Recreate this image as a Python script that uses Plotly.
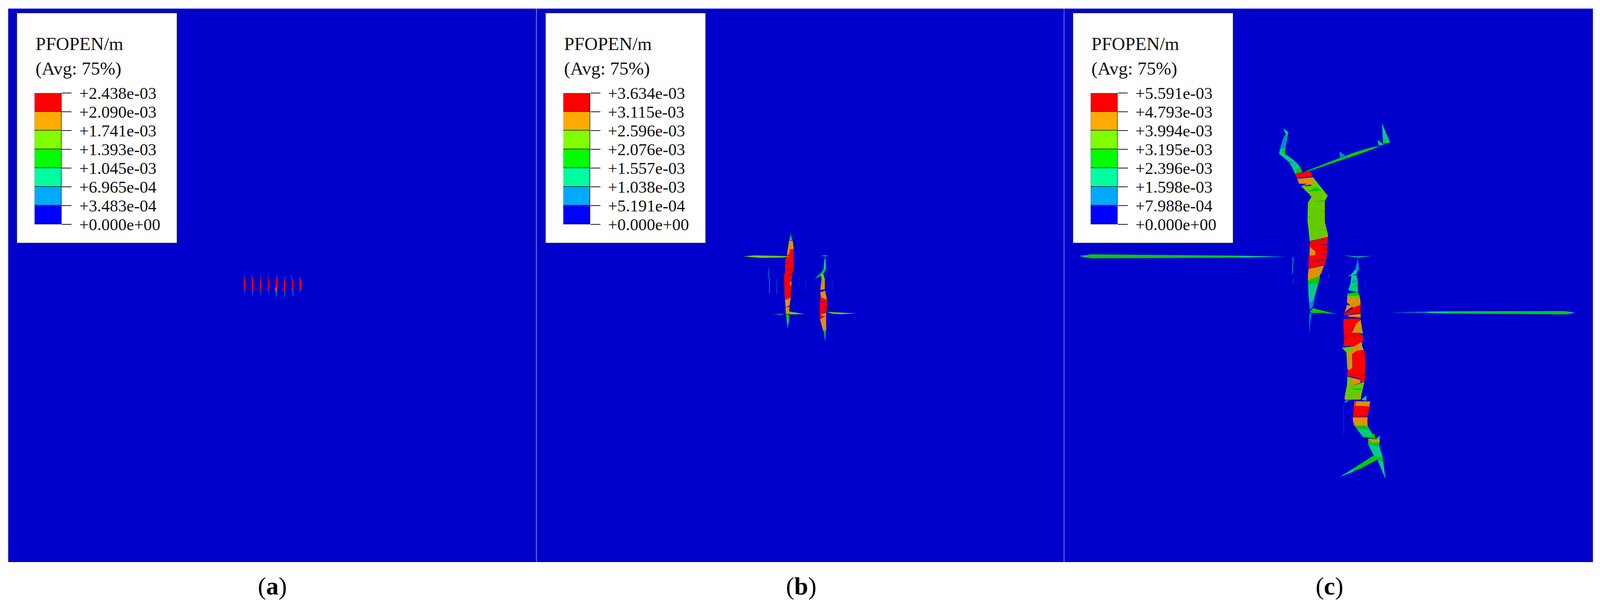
import plotly.graph_objects as go

# picture size the outlines and offsets were read at; the page itself fills the window
W, H = 4292, 1553

# -------------------------------------------------------------
# Data
# -------------------------------------------------------------
COLORMAP = ["#0000FF", "#00AAFF", "#00FF9F", "#00FF00", "#7FFF00", "#FFAA00", "#FF0000"]

LABELS_A = ["+2.438e-03", "+2.090e-03", "+1.741e-03", "+1.393e-03", "+1.045e-03", "+6.965e-04", "+3.483e-04", "+0.000e+00"]
LABELS_B = ["+3.634e-03", "+3.115e-03", "+2.596e-03", "+2.076e-03", "+1.557e-03", "+1.038e-03", "+5.191e-04", "+0.000e+00"]
LABELS_C = ["+5.591e-03", "+4.793e-03", "+3.994e-03", "+3.195e-03", "+2.396e-03", "+1.598e-03", "+7.988e-04", "+0.000e+00"]
CAPTIONS = ["a", "b", "c"]

# crack patches as (band, outline); band 0 = slit, 1 = faint, 2 azure, 3 spring, 4 green, 5 lime, 6 orange, 7 red
# outlines read off enlarged crops of the picture, see CROPS for each crop's origin and scale
SLIVERS_A = [
    (7, [(165,115),(172,125),(174,180),(170,220),(165,218),(160,175)]),
    (2, [(163,105),(168,105),(167,118),(164,118)]),
    (2, [(166,218),(172,220),(172,243),(169,243)]),
    (7, [(226,110),(236,130),(238,190),(236,225),(228,222),(227,160)]),
    (2, [(222,102),(226,102),(232,118),(228,118)]),
    (2, [(229,222),(236,222),(236,252),(233,252)]),
    (7, [(296,108),(301,130),(303,190),(300,235),(294,235),(292,180)]),
    (2, [(294,103),(299,103),(299,112),(295,112)]),
    (2, [(295,232),(300,232),(302,262),(300,262)]),
    (7, [(355,110),(362,130),(367,180),(360,225),(355,225),(358,165)]),
    (2, [(353,105),(358,105),(360,118),(356,118)]),
    (2, [(356,222),(361,222),(369,248),(366,248)]),
    (7, [(433,110),(432,130),(430,228),(417,228),(420,130)]),
    (6, [(418,195),(424,195),(424,228),(417,228)]),
    (2, [(431,105),(437,105),(431,122),(428,118)]),
    (2, [(418,226),(428,226),(430,264),(426,264)]),
    (7, [(487,130),(495,135),(495,235),(485,235),(483,170)]),
    (2, [(487,130),(505,112),(507,114),(492,132)]),
    (2, [(486,232),(494,232),(497,268),(493,268)]),
    (7, [(547,120),(556,135),(558,220),(549,220),(548,155)]),
    (2, [(537,100),(541,100),(552,125),(548,125)]),
    (2, [(550,218),(558,218),(563,265),(559,265)]),
    (7, [(610,125),(620,130),(627,175),(622,218),(613,218),(610,170)]),
    (2, [(606,120),(611,120),(618,132),(613,132)]),
    (2, [(612,218),(625,218),(625,221),(612,221)]),
    (2, [(607,220),(610,220),(615,234),(612,234)]),
]

CRACKS_B = [
    # left crack
    (3, [(507,100),(512,130),(500,165),(528,165)]),
    (4, [(512,130),(528,165),(500,165)]),
    (6, [(500,168),(530,168),(538,235),(510,235),(495,285),(483,280),(490,230)]),
    (7, [(510,232),(538,230),(538,380),(527,415),(527,432),(520,475),(505,490),(518,520),(515,545),(513,605),(467,620),(462,555),(460,440),(468,400),(468,320),(483,285),(500,270),(505,250)]),
    (6, [(520,475),(518,520),(505,495)]),
    (0, [(468,345),(533,332),(470,338)]),
    (0, [(468,398),(530,380),(468,392)]),
    (0, [(495,432),(527,425),(527,432)]),
    (0, [(460,548),(488,545),(460,542)]),
    (6, [(467,622),(513,605),(505,665),(472,680)]),
    (0, [(472,680),(507,663),(505,670)]),
    (6, [(472,680),(503,675),(500,725),(480,735),(473,720)]),
    (4, [(475,732),(500,735),(500,770),(490,800),(480,770)]),
    (3, [(480,770),(500,770),(488,845)]),
    (5, [(135,288),(220,280),(470,285),(505,292),(440,297),(345,298),(270,300),(200,295)]),
    (5, [(500,710),(545,718),(625,730),(560,733),(500,733)]),
    (3, [(372,733),(470,727),(430,735)]),
    (3, [(337,370),(339,370),(337,430),(345,470),(344,570),(340,570),(340,470),(333,430)]),
    (2, [(399,460),(401,460),(403,580),(400,580)]),
    (1, [(584,445),(586,445),(581,520),(579,520)]),
    (1, [(639,460),(641,460),(633,560),(631,560)]),
    (2, [(846,460),(848,460),(848,545),(846,545)]),
    # right crack
    (3, [(755,283),(790,280),(820,283),(790,288)]),
    (3, [(788,290),(795,320),(798,380),(785,400),(778,385),(782,330)]),
    (4, [(778,385),(795,390),(775,425),(740,445),(705,462),(740,430),(760,410)]),
    (5, [(755,425),(775,422),(788,460),(762,465)]),
    (6, [(762,460),(788,460),(788,540),(752,545),(755,510)]),
    (4, [(775,470),(760,500),(770,495)]),
    (0, [(750,545),(790,540),(770,548)]),
    (6, [(750,565),(790,550),(805,620),(760,610)]),
    (7, [(752,590),(765,605),(805,620),(805,670),(800,715),(750,735),(748,680)]),
    (0, [(755,640),(800,630),(770,645)]),
    (0, [(780,680),(805,672),(795,682)]),
    (6, [(750,735),(798,720),(798,770),(800,850),(775,860),(752,780)]),
    (7, [(750,735),(790,750),(752,770)]),
    (4, [(775,860),(800,850),(790,890)]),
    (3, [(783,880),(795,880),(790,945)]),
    (5, [(800,713),(920,718),(1043,725),(920,732),(850,728)]),
]

CRACKS_C_UPPER = [
    # left arm
    (3, [(275,105),(318,135),(295,240),(290,290),(340,320),(385,355),(410,380),(430,420),(372,432),(350,390),(320,345),(243,290),(255,240),(280,175),(298,150)]),
    (2, [(305,150),(295,240),(250,262),(270,195)]),
    (4, [(270,265),(295,240),(290,290),(270,280)]),
    (2, [(300,340),(340,345),(370,350),(330,355)]),
    (4, [(405,380),(430,420),(380,430),(385,400)]),
    # right arm
    (4, [(440,420),(485,405),(730,320),(850,280),(1000,240),(1060,235),(880,295),(550,395),(480,415)]),
    (2, [(728,272),(795,315),(735,320)]),
    (3, [(1037,190),(1085,225),(1045,230)]),
    (3, [(1072,70),(1137,210),(1080,218)]),
    (4, [(1082,175),(1110,212),(1080,220)]),
    # body
    (5, [(515,455),(635,590),(612,628),(612,780),(635,860),(637,885),(490,915),(472,770),(475,640),(505,597),(420,520),(500,520)]),
    (4, [(470,740),(570,730),(475,745)]),
    (4, [(515,635),(610,622),(610,630)]),
    (4, [(540,530),(590,555),(470,560)]),
    (4, [(575,702),(612,698),(612,706)]),
    (4, [(530,838),(625,830),(625,834)]),
    (6, [(500,595),(555,600),(510,605)]),
    (7, [(372,432),(497,415),(510,450),(390,470)]),
    (0, [(390,468),(515,450),(405,460)]),
    (6, [(390,470),(515,458),(530,485),(500,510),(420,520),(470,505),(405,505)]),
    (6, [(560,885),(637,870),(637,885)]),
    (7, [(490,918),(637,885),(637,900),(628,1015),(610,1085),(480,1115),(482,1020),(535,1015),(535,990),(490,955)]),
    (6, [(490,955),(535,990),(535,1015),(488,1020)]),
    (0, [(515,915),(637,900),(637,905)]),
    (0, [(490,955),(635,935),(635,942)]),
    (0, [(570,978),(632,968),(632,975)]),
    (0, [(575,1015),(625,1005),(622,1013)]),
    (0, [(480,1070),(608,1043),(605,1050)]),
    (0, [(482,1112),(605,1085),(600,1092)]),
    (6, [(480,1115),(605,1090),(585,1140),(545,1200),(475,1200),(475,1160)]),
    (4, [(477,1195),(575,1165),(560,1215),(477,1225)]),
    (3, [(477,1225),(560,1215),(520,1345),(490,1400),(480,1300)]),
    (2, [(490,1355),(530,1330),(515,1385),(490,1410)]),
    (4, [(490,1425),(515,1395),(600,1415),(705,1437),(600,1430),(510,1430)]),
    (2, [(488,1435),(505,1430),(495,1500),(486,1590)]),
    # thin traces
    (3, [(354,1030),(359,1030),(351,1150),(348,1150)]),
    (2, [(356,1190),(359,1190),(358,1222),(355,1222)]),
    (2, [(639,1150),(642,1150),(641,1180),(638,1180)]),
]

CRACKS_C_LOWER = [
    (3, [(460,35),(580,42),(695,38),(580,50)]),
    (2, [(578,55),(588,125),(570,150),(555,130)]),
    (3, [(555,130),(575,140),(565,160),(495,178),(525,160)]),
    (3, [(525,170),(565,165),(575,200),(578,280),(500,268),(520,215)]),
    (2, [(530,210),(570,195),(565,205),(540,222)]),
    (4, [(550,235),(575,225),(578,245),(530,245)]),
    (4, [(495,290),(578,278),(590,305),(492,308)]),
    (5, [(492,305),(590,303),(595,325),(492,322)]),
    (6, [(492,320),(595,320),(600,365),(540,385),(490,350)]),
    (6, [(490,365),(540,375),(520,385),(480,410),(468,430)]),
    (7, [(465,430),(540,385),(600,365),(598,420),(468,435)]),
    (6, [(500,435),(600,425),(600,450),(500,445)]),
    (3, [(465,435),(595,420),(500,430)]),
    (0, [(460,465),(600,452),(460,458)]),
    (7, [(462,462),(600,455),(565,495),(530,540),(585,555),(618,570),(620,605),(545,645),(458,640),(468,600),(460,510)]),
    (6, [(600,465),(615,555),(530,550),(565,490)]),
    (5, [(605,490),(618,560),(600,555)]),
    (0, [(468,572),(615,562),(468,577)]),
    (6, [(545,645),(610,612),(612,640),(625,668),(570,672),(530,695),(535,790),(498,805),(485,680),(450,652)]),
    (5, [(450,652),(540,650),(540,670),(480,680)]),
    (5, [(485,680),(500,680),(500,805),(492,790)]),
    (7, [(570,672),(630,670),(638,750),(632,880),(595,880),(590,860),(530,845),(490,840),(497,805),(538,785),(530,695)]),
    (0, [(495,838),(632,835),(632,840)]),
    (5, [(493,845),(520,850),(530,910),(630,880),(605,970),(600,998),(510,1000),(470,985),(490,900)]),
    (6, [(493,845),(590,865),(600,885),(530,910),(520,850)]),
    (4, [(525,925),(610,925),(610,935),(540,932)]),
    (6, [(470,980),(510,1000),(472,1000)]),
    (6, [(570,1000),(605,970),(600,998)]),
    (3, [(468,1022),(480,1005),(510,1003)]),
    (3, [(605,998),(648,972),(645,1008)]),
    (6, [(548,1010),(678,1012),(670,1045),(548,1040)]),
    (7, [(553,1010),(563,1010),(558,1035),(548,1035)]),
    (7, [(548,1040),(670,1045),(655,1115),(537,1115),(542,1075)]),
    (0, [(610,1076),(665,1076),(662,1081)]),
    (0, [(537,1107),(655,1107),(655,1112)]),
    (6, [(537,1118),(655,1118),(655,1170),(660,1175),(550,1175),(537,1140)]),
    (4, [(552,1175),(660,1175),(668,1195),(570,1195)]),
    (3, [(570,1195),(668,1195),(715,1255),(620,1250)]),
    (4, [(620,1245),(710,1228),(720,1260),(640,1250)]),
    (4, [(660,1258),(720,1262),(755,1240),(750,1310),(660,1298)]),
    (3, [(725,1268),(755,1240),(752,1270)]),
    (6, [(670,1260),(755,1270),(750,1285),(680,1285)]),
    (3, [(660,1298),(750,1310),(778,1388),(710,1380)]),
    (4, [(700,1375),(778,1388),(780,1415),(735,1400),(600,1460),(530,1480),(530,1465)]),
    (3, [(530,1465),(545,1480),(430,1517)]),
    (3, [(735,1400),(782,1415),(800,1532)]),
    # thin traces
    (1, [(634,205),(637,205),(638,265),(635,265)]),
    (1, [(461,1030),(464,1030),(466,1230),(463,1230)]),
]

CRACK_C_LEFT = [
    (3, [(100,105),(150,98),(155,118)]),
    (4, [(150,98),(170,92),(1090,102),(1090,118),(170,122),(150,114)]),
    (3, [(1090,102),(1240,106),(1390,111),(1240,114),(1090,118)]),
    (2, [(1425,115),(1429,115),(1424,240),(1421,240)]),
]

CRACK_C_RIGHT = [
    (2, [(70,118),(340,112),(340,122)]),
    (3, [(340,112),(500,109),(500,126),(340,122)]),
    (4, [(500,109),(1320,107),(1345,112),(1345,130),(1320,133),(500,127)]),
    (3, [(1345,112),(1392,121),(1345,130)]),
]

# crop: (origin x, origin y, scale x, scale y)
CROPS = {
    "a": (600, 670, 3, 3),
    "b": (1950, 560, 3, 3),
    "c_upper": (3350, 290, 3, 2.8),
    "c_lower": (3450, 640, 3, 2.613),
    "c_left": (2850, 620, 2.306, 3),
    "c_right": (3700, 760, 2.649, 3),
}

# -------------------------------------------------------------
# Helpers
# -------------------------------------------------------------
BAND_COLORS = {
    0: "#2A1CB0",
    1: "#0A50D8",
    2: "#0088D4",
    3: "#00CC88",
    4: "#00CC00",
    5: "#66CC00",
    6: "#E09000",
    7: "#FF0000",
}
BG = "#0000CD"
FONT = "Liberation Serif"


def px_x(x):
    return x / W


def px_y(y):
    return 1 - y / H


def add_patches(fig, patches, crop, row):
    ox, oy, sx, sy = CROPS[crop]
    xaxis = "x" if row == 1 else f"x{row}"
    yaxis = "y" if row == 1 else f"y{row}"
    for band, outline in patches:
        xs = [ox + p[0] / sx for p in outline] + [ox + outline[0][0] / sx]
        ys = [oy + p[1] / sy for p in outline] + [oy + outline[0][1] / sy]
        fig.add_trace(
            go.Scatter(
                x=xs,
                y=ys,
                mode="lines",
                fill="toself",
                fillcolor=BAND_COLORS[band],
                line=dict(width=0, color=BAND_COLORS[band]),
                hoverinfo="skip",
                showlegend=False,
                xaxis=xaxis,
                yaxis=yaxis,
            )
        )


def add_legend(fig, labels, n, left):
    # labels run top to bottom, bands are stacked from the bottom up
    levels = [float(v) for v in labels][::-1]
    idx = 3 + n
    ax = f"x{idx}"
    ay = f"y{idx}"
    fig.add_trace(
        go.Bar(
            x=[0] * 7,
            y=[levels[i + 1] - levels[i] for i in range(7)],
            base=levels[:-1],
            width=1,
            marker=dict(color=COLORMAP, line=dict(color="#1A1A1A", width=1.5)),
            hoverinfo="skip",
            showlegend=False,
            xaxis=ax,
            yaxis=ay,
        )
    )
    fig.update_layout(
        {
            f"xaxis{idx}": dict(
                domain=[px_x(left + 48), px_x(left + 120)],
                range=[-0.5, 0.5],
                anchor=ay,
                showticklabels=False,
                ticks="",
                showgrid=False,
                zeroline=False,
                showline=False,
            ),
            f"yaxis{idx}": dict(
                domain=[px_y(574), px_y(238)],
                range=[levels[0], levels[-1]],
                anchor=ax,
                side="right",
                tickvals=levels,
                ticktext=labels[::-1],
                ticks="outside",
                ticklen=25,
                tickwidth=1.5,
                tickcolor="#1A1A1A",
                ticklabelstandoff=11,
                tickfont=dict(family=FONT, size=43, color="#111111"),
                showgrid=False,
                zeroline=False,
                showline=False,
            ),
        }
    )
    fig.add_shape(
        type="rect",
        xref="paper",
        yref="paper",
        x0=px_x(left),
        x1=px_x(left + 430),
        y0=px_y(33),
        y1=px_y(622),
        fillcolor="white",
        line=dict(color="#222222", width=1.5),
        layer="between",
    )
    for text, y in (("PFOPEN/m", 112), ("(Avg: 75%)", 175)):
        fig.add_annotation(
            x=px_x(left + 48),
            y=px_y(y),
            xref="paper",
            yref="paper",
            xanchor="left",
            yanchor="middle",
            text=text,
            showarrow=False,
            font=dict(family=FONT, size=47, color="#111111"),
        )


# -------------------------------------------------------------
# Main
# -------------------------------------------------------------
PANELS = [(22, 1440), (1440, 2855), (2855, 4273)]
TOP, BOTTOM = 22, 1438

fig = go.Figure()
add_patches(fig, SLIVERS_A, "a", 1)
add_patches(fig, CRACKS_B, "b", 2)
add_patches(fig, CRACK_C_LEFT, "c_left", 3)
add_patches(fig, CRACK_C_RIGHT, "c_right", 3)
add_patches(fig, CRACKS_C_UPPER, "c_upper", 3)
add_patches(fig, CRACKS_C_LOWER, "c_lower", 3)

for i, (x0, x1) in enumerate(PANELS, start=1):
    suffix = "" if i == 1 else str(i)
    fig.update_layout(
        {
            f"xaxis{suffix}": dict(
                domain=[px_x(x0), px_x(x1)],
                range=[x0, x1],
                anchor=f"y{suffix}",
                visible=False,
            ),
            f"yaxis{suffix}": dict(
                domain=[px_y(BOTTOM), px_y(TOP)],
                range=[BOTTOM, TOP],
                anchor=f"x{suffix}",
                showline=i > 1,
                linecolor="#6E6EE6",
                linewidth=2,
                ticks="",
                showticklabels=False,
                showgrid=False,
                zeroline=False,
            ),
        }
    )

add_legend(fig, LABELS_A, 1, 45)
add_legend(fig, LABELS_B, 2, 1463)
add_legend(fig, LABELS_C, 3, 2878)

for cap, cx in zip(CAPTIONS, (731, 2149, 3566)):
    fig.add_annotation(
        x=px_x(cx),
        y=px_y(1499),
        xref="paper",
        yref="paper",
        xanchor="center",
        yanchor="middle",
        text=f"(<b>{cap}</b>)",
        showarrow=False,
        font=dict(family=FONT, size=64, color="#000000"),
    )

fig.update_layout(
    autosize=True,
    margin=dict(l=0, r=0, t=0, b=0, autoexpand=False),
    paper_bgcolor="white",
    plot_bgcolor=BG,
    bargap=0,
)

fig.write_html(
    "out.html",
    config={"displayModeBar": False, "responsive": True},
    default_width="100vw",
    default_height="100vh",
    post_script="document.body.style.margin='0';document.body.style.overflow='hidden';Plotly.Plots.resize(document.getElementsByClassName('plotly-graph-div')[0]);",
)
